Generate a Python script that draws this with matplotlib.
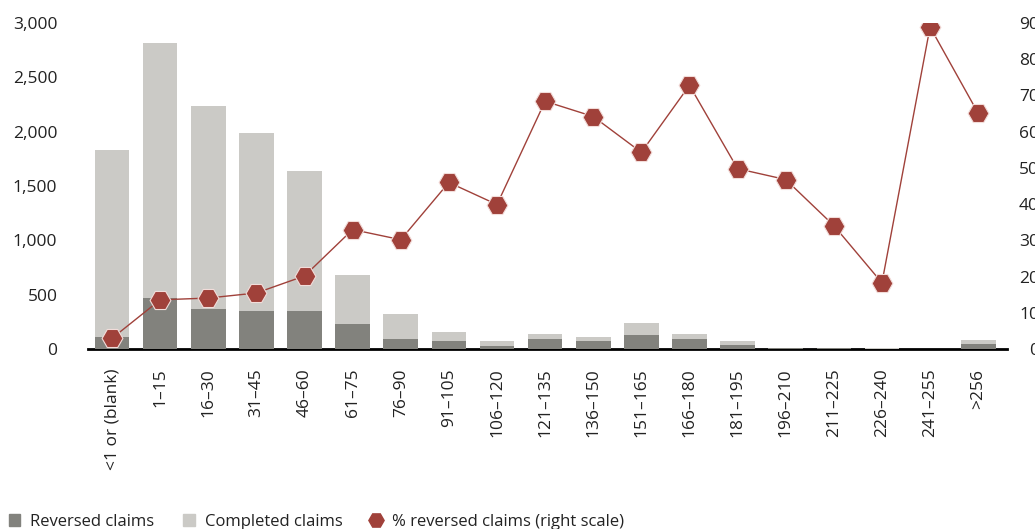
import numpy as np
import matplotlib.pyplot as plt
from matplotlib.patches import Patch
from matplotlib.lines import Line2D

plt.rcParams['font.family'] = ['Open Sans', 'DejaVu Sans']

categories = ['<1 or (blank)', '1\u201315', '16\u201330', '31\u201345', '46\u201360', '61\u201375',
              '76\u201390', '91\u2013105', '106\u2013120', '121\u2013135', '136\u2013150',
              '151\u2013165', '166\u2013180', '181\u2013195', '196\u2013210', '211\u2013225',
              '226\u2013240', '241\u2013255', '>256']
completed = [1830, 2815, 2235, 1985, 1635, 685, 325, 157, 74, 138, 111, 240, 138, 74,
             14, 14, 6, 5, 83]
reversed_claims = [111, 471, 369, 351, 351, 231, 95, 74, 28, 92, 74, 129, 92, 37,
                   10, 8, 4, 3, 46]
pct_reversed = [3.0, 13.6, 14.1, 15.5, 20.2, 33.0, 30.2, 46.0, 39.9, 68.4, 64.2, 54.3,
                72.8, 49.8, 46.8, 34.1, 18.3, 88.9, 65.1]

dark = '#82827d'
light = '#cbcac6'
red = '#a0413a'
text_col = '#222222'

fig = plt.figure(figsize=(10.35, 5.29), dpi=100)
ax = fig.add_axes([0.085, 0.340, 0.888, 0.6165])
x = np.arange(len(categories))

ax.bar(x, completed, width=0.72, color=light, zorder=2)
ax.bar(x, reversed_claims, width=0.72, color=dark, zorder=3)
ax.set_ylim(0, 3000)
ax.set_xlim(-0.5, 18.6)
ax.set_yticks(range(0, 3001, 500))
ax.set_yticklabels([f'{v:,}' for v in range(0, 3001, 500)])
ax.set_xticks(x)
ax.set_xticklabels(categories, rotation=90)
ax.tick_params(axis='y', length=0, pad=22, labelsize=12.5, labelcolor=text_col)
ax.tick_params(axis='x', length=0, pad=14, labelsize=12.5, labelcolor=text_col)
for s in ['top', 'right', 'left']:
    ax.spines[s].set_visible(False)
ax.spines['bottom'].set_linewidth(2.0)
ax.spines['bottom'].set_color('black')
ax.spines['bottom'].set_zorder(1)

ax2 = ax.twinx()
ax2.plot(x, pct_reversed, color=red, lw=1.0, marker='H', markersize=15,
         markerfacecolor=red, markeredgecolor='#f2dcd9', markeredgewidth=0.8, zorder=6)
ax2.set_ylim(0, 90)
ax2.set_yticks(range(0, 91, 10))
ax2.tick_params(axis='y', length=0, pad=23, labelsize=12.5, labelcolor=text_col)
for lab in ax2.get_yticklabels():
    lab.set_horizontalalignment('right')
for s in ax2.spines.values():
    s.set_visible(False)

handles = [Patch(color=dark), Patch(color=light),
           Line2D([], [], color=red, marker='H', linestyle='none', markersize=11)]
labels = ['Reversed claims', 'Completed claims', '% reversed claims (right scale)']
fig.legend(handles, labels, loc='lower left', bbox_to_anchor=(-0.006, -0.03), ncol=3,
           frameon=False, fontsize=12, handlelength=0.7, handleheight=0.7,
           handletextpad=0.6, columnspacing=1.7, labelcolor=text_col)

fig.savefig('out.png', dpi=100)
